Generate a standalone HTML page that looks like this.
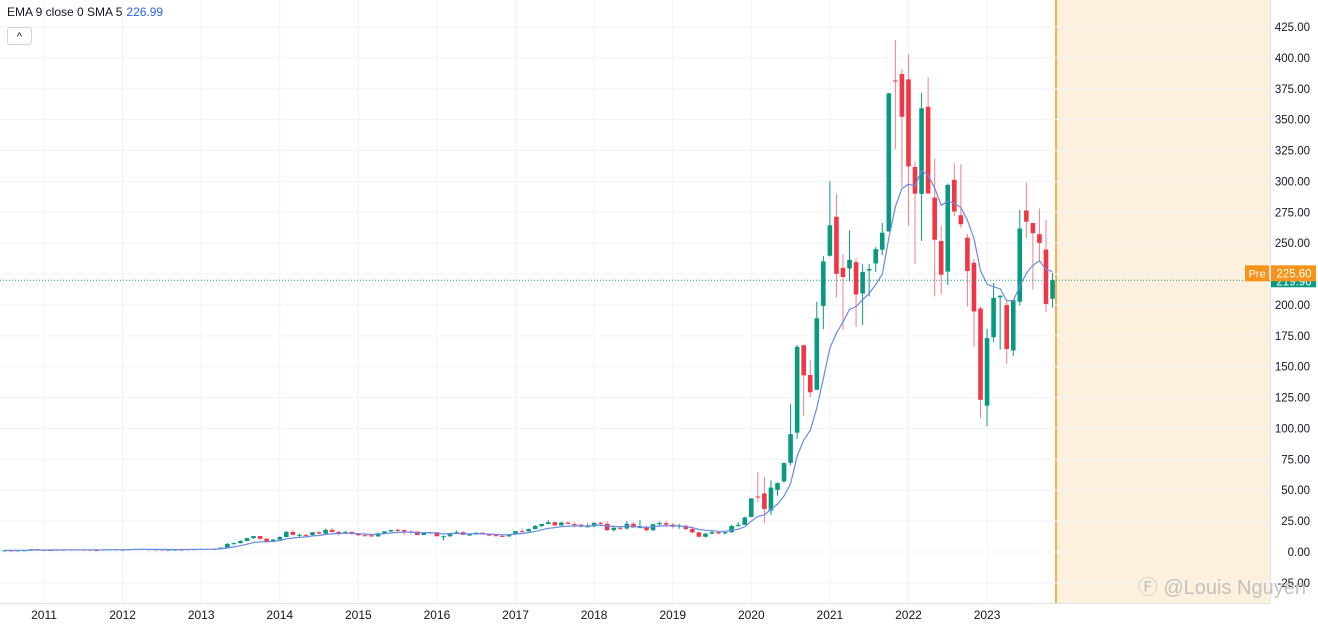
<!DOCTYPE html>
<html><head><meta charset="utf-8">
<style>
html,body{margin:0;padding:0;background:#fff;width:1318px;height:625px;overflow:hidden;font-family:"Liberation Sans",sans-serif;}
#top{position:absolute;left:7px;top:5px;font-size:12px;color:#131722;}
#top span{color:#2962ff;margin-left:4px;}
#btn{position:absolute;left:7px;top:27px;width:23px;height:16px;border:1px solid #d1d4dc;border-radius:3px;background:#fff;font-size:11px;text-align:center;line-height:18px;color:#131722;}
</style></head><body>
<svg id="chart" width="1318" height="625" style="position:absolute;left:0;top:0" font-family="Liberation Sans, sans-serif"></svg>
<div id="top">EMA 9 close 0 SMA 5<span>226.99</span></div>
<div id="btn">^</div>
<script>
const startYear = 2010, startMonth = 6; // Jul 2010
const ohlc = [
[1.27,1.5,1.1,1.33],[1.33,1.45,1.2,1.30],[1.30,1.5,1.25,1.36],[1.36,1.55,1.3,1.45],[1.45,2.4,1.4,2.33],[2.33,2.4,1.75,1.78],
[1.78,1.85,1.55,1.60],[1.60,1.65,1.45,1.59],[1.59,1.9,1.55,1.85],[1.85,1.95,1.7,1.84],[1.84,2.1,1.8,2.00],[2.00,2.05,1.8,1.94],[1.94,2.05,1.8,1.87],[1.87,1.9,1.55,1.65],[1.65,1.8,1.5,1.63],[1.63,2.0,1.6,1.95],[1.95,2.3,1.9,2.18],[2.18,2.3,1.8,1.90],
[1.90,2.0,1.5,1.95],[1.95,2.3,1.9,2.23],[2.23,2.6,2.2,2.48],[2.48,2.6,2.1,2.22],[2.22,2.3,1.9,1.98],[1.98,2.3,1.95,2.09],[2.09,2.2,1.8,1.85],[1.85,2.0,1.75,1.90],[1.90,2.0,1.8,1.95],[1.95,2.0,1.8,1.89],[1.89,2.3,1.85,2.25],[2.25,2.4,2.15,2.26],
[2.26,2.6,2.2,2.50],[2.50,2.7,2.3,2.32],[2.32,2.6,2.3,2.53],[2.53,3.7,2.5,3.60],[3.60,7.3,3.5,6.50],[6.50,7.8,5.9,7.17],[7.17,9.5,7.0,8.95],[8.95,11.5,8.6,11.25],[11.25,12.9,10.5,12.89],[12.89,12.9,9.8,10.72],[10.72,11.3,7.9,8.45],[8.45,10.5,7.8,10.03],
[10.03,12.7,9.6,12.10],[12.10,17.2,12.0,16.26],[16.26,17.7,13.4,13.90],[13.90,15.0,11.8,13.90],[13.90,14.7,12.1,13.80],[13.80,16.1,13.4,16.00],[16.00,16.8,14.5,14.89],[14.89,19.0,14.6,17.93],[17.93,19.4,15.8,16.18],[16.18,17.3,13.3,16.11],[16.11,17.0,15.2,16.30],[16.30,16.5,13.6,14.83],
[14.83,15.4,12.8,13.57],[13.57,14.5,12.6,13.53],[13.53,13.9,12.3,12.58],[12.58,15.6,12.3,15.11],[15.11,16.8,14.8,16.69],[16.69,18.0,16.3,17.88],[17.88,19.1,16.7,17.73],[17.73,17.9,13.7,16.65],[16.65,17.7,14.7,16.56],[16.56,16.6,13.7,13.77],[13.77,15.4,13.7,15.37],[15.37,16.3,14.7,16.00],
[16.00,16.2,12.7,12.75],[12.75,13.4,9.4,12.77],[12.77,15.6,12.2,15.32],[15.32,17.4,14.8,16.05],[16.05,16.8,13.8,13.90],[13.90,14.9,12.9,14.15],[14.15,15.9,14.0,15.62],[15.62,15.9,14.0,14.14],[14.14,14.4,12.9,13.60],[13.60,14.3,12.6,13.12],[13.12,13.9,12.0,12.58],[12.58,14.5,12.4,14.25],
[14.25,16.9,14.1,16.87],[16.87,19.1,16.1,16.69],[16.69,19.0,16.4,18.55],[18.55,21.9,18.4,20.99],[20.99,22.7,20.3,22.69],[22.69,25.8,22.5,24.11],[24.11,24.5,20.6,21.57],[21.57,24.6,21.2,23.78],[23.78,24.7,22.5,22.74],[22.74,24.0,19.8,22.10],[22.10,22.6,19.6,20.59],[20.59,23.1,20.2,20.76],
[20.76,23.9,20.0,23.62],[23.62,24.4,20.9,22.87],[22.87,24.9,16.8,17.74],[17.74,20.0,16.5,19.59],[19.59,20.9,18.0,18.98],[18.98,24.9,18.1,22.86],[22.86,24.0,19.3,19.88],[19.88,25.8,19.5,20.11],[20.11,21.3,16.6,17.65],[17.65,23.0,16.9,22.49],[22.49,24.6,21.0,23.40],[23.40,25.2,19.9,22.19],
[22.19,23.5,19.0,20.47],[20.47,22.9,18.8,21.33],[21.33,21.9,17.4,18.66],[18.66,19.7,15.2,15.91],[15.91,16.3,11.8,12.34],[12.34,15.3,11.8,14.90],[14.90,17.1,14.4,16.11],[16.11,16.3,14.1,15.04],[15.04,16.4,14.5,16.06],[16.06,22.0,15.5,20.99],[20.99,24.1,20.5,21.99],[21.99,28.7,21.9,27.89],
[28.3,43.5,28.1,43.4],[44.9,64.6,40.4,44.5],[47.4,60.6,23.4,34.9],[33.6,58.0,29.8,52.1],[50.3,56.4,45.5,55.7],[57.2,72.5,56.2,72.0],[72.2,119.7,70.1,95.4],[96.6,167.5,91.7,166.1],[167.4,167.5,109.9,143.0],[143.3,155.3,125.3,129.3],[131.3,202.6,131.3,189.2],[199.2,239.6,180.4,235.2],
[239.8,300.1,239.1,264.5],[271.4,290.0,206.3,225.2],[230.0,241.0,179.8,222.6],[229.5,260.3,219.0,236.5],[234.6,237.9,182.3,208.4],[209.3,232.9,183.9,226.6],[227.9,233.3,206.9,229.1],[233.6,246.8,226.7,245.2],[244.7,266.3,240.2,258.5],[259.5,371.7,259.4,371.3],[381.7,414.5,326.2,381.6],[386.9,390.9,295.4,352.3],
[382.6,402.7,264.0,312.2],[311.7,315.9,233.3,290.1],[289.9,371.6,252.0,359.2],[360.4,384.3,290.0,290.3],[286.9,318.5,206.9,252.8],[251.7,264.2,208.7,224.5],[227.0,298.3,216.2,297.1],[301.3,314.7,271.8,275.6],[272.6,313.8,262.5,265.3],[254.5,257.5,198.6,227.5],[234.1,237.4,166.2,194.7],[197.1,198.9,108.2,123.2],
[118.5,180.7,101.8,173.2],[173.9,217.7,169.9,205.7],[206.2,207.8,163.9,207.5],[199.9,202.7,152.4,164.3],[163.2,204.5,158.8,203.9],[202.6,276.9,199.4,261.8],[276.5,299.3,254.1,267.4],[266.3,266.5,212.4,258.1],[257.3,278.0,234.6,250.2],[244.8,268.9,194.1,200.8],[205.0,226.0,197.9,219.96]
];
const priceTicks = [425,400,375,350,325,300,275,250,225,200,175,150,125,100,75,50,25,0,-25];
const yearLabels = [2011,2012,2013,2014,2015,2016,2017,2018,2019,2020,2021,2022,2023];
const lastPrice = 219.96, prePrice = 225.60;

const svg = document.getElementById('chart');
const NS = 'http://www.w3.org/2000/svg';
function y(v){ return 552 - v*1.2353; }
function xm(m){ return 44 + m*6.549; }
function xi(i){ return xm(i + (startYear-2011)*12 + startMonth); }
function mk(tag, attrs, parent){ const e=document.createElementNS(NS,tag); for(const k in attrs) e.setAttribute(k,attrs[k]); (parent||svg).appendChild(e); return e; }

const zone = mk('rect',{x:1056,y:0,width:214,height:603,fill:'#fdf0dc'});


mk('line',{x1:1056,x2:1056,y1:0,y2:603,stroke:'#f6b04f','stroke-width':2});

priceTicks.forEach(v=>{
  const g = mk('line',{x1:0,x2:1270,y1:y(v),y2:y(v),stroke:'#f0f3fa','stroke-width':1});
  
  
});
yearLabels.forEach(yr=>{
  const g = mk('line',{x1:xm((yr-2011)*12),x2:xm((yr-2011)*12),y1:0,y2:603,stroke:'#f0f3fa','stroke-width':1});
  
  
});

mk('line',{x1:1270.5,x2:1270.5,y1:0,y2:603,stroke:'#e0e3eb'});
mk('line',{x1:0,x2:1270,y1:603.5,y2:603.5,stroke:'#e0e3eb'});
priceTicks.forEach(v=>{
  const t = mk('text',{x:1310,y:y(v)+4,'text-anchor':'end','font-size':11.5,fill:'#131722'});
  t.textContent = v.toFixed(2);
  
  
});
yearLabels.forEach(yr=>{
  const t = mk('text',{x:xm((yr-2011)*12),y:619,'text-anchor':'middle','font-size':12,fill:'#131722'});
  t.textContent = yr;
  
  
});

ohlc.forEach((d,i)=>{
  const [o,h,l,c]=d, up=c>=o, col = up?'#089981':'#f23645';
  const cx = xi(i);
  const g = mk('g',{});
  
  
  mk('line',{x1:cx,x2:cx,y1:y(h),y2:y(l),stroke:up?'#089981':'#f57f89','stroke-width':1},g);
  const top=y(Math.max(o,c)), bot=y(Math.min(o,c));
  mk('rect',{x:cx-2.3,y:top,width:4.6,height:Math.max(1,bot-top),fill:col},g);
});

// EMA 9 of close
const closes = ohlc.map(d=>d[3]);
const ema=[]; const k=2/10;
closes.forEach((c,i)=>{ ema.push(i===0?c:c*k+ema[i-1]*(1-k)); });
const line = mk('polyline',{points:ema.map((v,i)=>xi(i).toFixed(1)+','+y(v).toFixed(1)).join(' '),fill:'none',stroke:'#6a88e8','stroke-width':1.2});



mk('line',{x1:0,x2:1270,y1:y(lastPrice),y2:y(lastPrice),stroke:'#089981','stroke-width':1,'stroke-dasharray':'1,2'});

const gt = mk('rect',{x:1271,y:y(lastPrice)-5,width:45,height:12,fill:'#089981'});


const gtt = mk('text',{x:1294,y:y(lastPrice)+5,'text-anchor':'middle','font-size':11.5,fill:'#fff'}); gtt.textContent=lastPrice.toFixed(2);
const pt = mk('rect',{x:1271,y:y(prePrice)-8,width:45,height:16,fill:'#f7931a'});


const ptt = mk('text',{x:1294,y:y(prePrice)+4,'text-anchor':'middle','font-size':11.5,fill:'#fff'}); ptt.textContent=prePrice.toFixed(2);
const pr = mk('rect',{x:1245,y:y(prePrice)-8,width:24,height:16,fill:'#f7931a'});


const prt = mk('text',{x:1257,y:y(prePrice)+4,'text-anchor':'middle','font-size':11,fill:'#fff'}); prt.textContent='Pre';

const wm = mk('text',{x:1306,y:594,'text-anchor':'end','font-size':20,fill:'#b8b8b8','fill-opacity':0.85});
wm.textContent='\u24BB @Louis Nguyen';


</script>
</body></html>
